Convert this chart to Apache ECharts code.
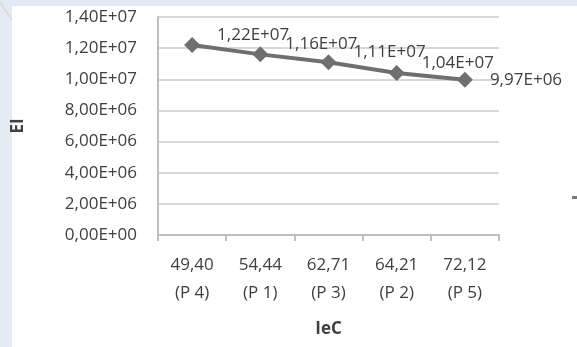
<!DOCTYPE html>
<html>
<head>
<meta charset="utf-8">
<script src="https://cdn.jsdelivr.net/npm/echarts@6/dist/echarts.min.js"></script>
<style>
html,body{margin:0;padding:0;background:#ffffff;}
#chart{width:577px;height:347px;}
</style>
</head>
<body>
<div id="chart"></div>
<script>
var categories = ['49,40\n(P 4)', '54,44\n(P 1)', '62,71\n(P 3)', '64,21\n(P 2)', '72,12\n(P 5)'];
var values = [12200000, 11600000, 11100000, 10400000, 9970000];
var yTicks = {min: 0, max: 14000000, interval: 2000000};

function sci(v) {
  if (v === 0) return '0,00E+00';
  var s = Number(v).toExponential(2);
  var parts = s.split('e');
  var mant = parts[0].replace('.', ',');
  var exp = parseInt(parts[1], 10);
  var sign = exp < 0 ? '-' : '+';
  var e = Math.abs(exp);
  return mant + 'E' + sign + (e < 10 ? '0' + e : '' + e);
}

var FONT = 'Open Sans';
var FS = 17;
var chart = echarts.init(document.getElementById('chart'), null, {renderer: 'canvas'});

var seriesData = values.map(function (v, i) {
  return {
    value: v,
    label: { offset: i === values.length - 1 ? [0, 0] : [0, -10] }
  };
});

chart.setOption({
  backgroundColor: '#ffffff',
  animation: false,
  graphic: [
    { type: 'rect', left: 0, top: 0, shape: { width: 12, height: 347 }, style: { fill: '#e4ebf4' }, z: 0 },
    { type: 'rect', left: 0, top: 0, shape: { width: 577, height: 6 }, style: { fill: '#e1e9f2' }, z: 0 },
    { type: 'line', shape: { x1: 0, y1: 2, x2: 12, y2: 20 }, style: { stroke: '#c8cdd6', lineWidth: 1 }, z: 1 },
    { type: 'rect', left: 572, top: 196, shape: { width: 5, height: 3 }, style: { fill: '#7a7a7a' }, z: 1 }
  ],
  grid: { left: 158, right: 78, top: 17, bottom: 112, containLabel: false },
  xAxis: {
    type: 'category',
    data: categories,
    boundaryGap: true,
    axisLine: { show: true, lineStyle: { color: '#bfbfbf', width: 2 } },
    axisTick: { show: true, length: 6, lineStyle: { color: '#bfbfbf', width: 2 } },
    axisLabel: {
      color: '#404040', fontFamily: FONT, fontSize: FS, lineHeight: 28, margin: 16, interval: 0
    },
    name: 'IeC',
    nameLocation: 'middle',
    nameGap: 86,
    nameTextStyle: { color: '#404040', fontFamily: FONT, fontSize: FS, fontWeight: 'bold' }
  },
  yAxis: {
    type: 'value',
    min: yTicks.min,
    max: yTicks.max,
    interval: yTicks.interval,
    axisLine: { show: true, lineStyle: { color: '#bfbfbf', width: 2 } },
    axisTick: { show: false },
    splitLine: { show: true, lineStyle: { color: '#d9d9d9', width: 2 } },
    axisLabel: {
      color: '#404040', fontFamily: FONT, fontSize: FS, margin: 21,
      formatter: function (v) { return sci(v); }
    },
    name: 'EI',
    nameLocation: 'middle',
    nameGap: 131,
    nameRotate: 90,
    nameTextStyle: { color: '#404040', fontFamily: FONT, fontSize: FS, fontWeight: 'bold' }
  },
  series: [{
    type: 'line',
    data: seriesData,
    symbol: 'diamond',
    symbolSize: 16,
    itemStyle: { color: '#6f6f6f' },
    lineStyle: { color: '#6f6f6f', width: 4 },
    label: {
      show: true,
      position: 'right',
      distance: 17,
      color: '#404040',
      fontFamily: FONT,
      fontSize: FS,
      formatter: function (p) { return sci(p.value); }
    },
    z: 3
  }]
});
</script>
</body>
</html>
